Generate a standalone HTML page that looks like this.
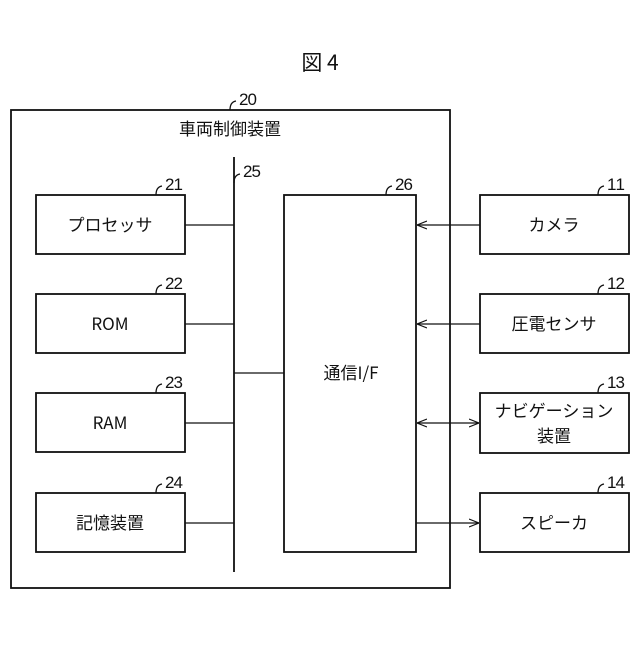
<!DOCTYPE html>
<html><head><meta charset="utf-8"><style>
html,body{margin:0;padding:0;background:#fff}
svg text{font-family:"Noto Sans CJK JP","Liberation Sans",sans-serif;fill:#111}
svg text.n{font-family:"Liberation Sans",sans-serif}
</style></head><body>
<svg width="640" height="640" viewBox="0 0 640 640" xmlns="http://www.w3.org/2000/svg">
<defs>
<marker id="a" viewBox="0 0 10 10" refX="10" refY="5" markerWidth="10" markerHeight="10" orient="auto-start-reverse" markerUnits="userSpaceOnUse"><path d="M0,1 L10,5 L0,9" fill="none" stroke="#111" stroke-width="1.2"/></marker>
</defs>
<g stroke="#111" stroke-width="1.8" fill="none">
<rect x="11" y="110" width="439" height="478"/>
<rect x="36" y="195" width="149" height="59"/>
<rect x="36" y="294" width="149" height="59"/>
<rect x="36" y="393" width="149" height="59"/>
<rect x="36" y="493" width="149" height="59"/>
<rect x="284" y="195" width="132" height="357"/>
<rect x="480" y="195" width="149" height="59"/>
<rect x="480" y="294" width="149" height="59"/>
<rect x="480" y="393" width="149" height="60"/>
<rect x="480" y="493" width="149" height="59"/>
<line x1="234" y1="157" x2="234" y2="572"/>
</g>
<g stroke="#111" stroke-width="1.3" fill="none">
<line x1="185" y1="225" x2="234" y2="225"/>
<line x1="185" y1="324" x2="234" y2="324"/>
<line x1="185" y1="423" x2="234" y2="423"/>
<line x1="185" y1="523" x2="234" y2="523"/>
<line x1="234" y1="373" x2="284" y2="373"/>
<line x1="480" y1="225" x2="417" y2="225" marker-end="url(#a)"/>
<line x1="480" y1="324" x2="417" y2="324" marker-end="url(#a)"/>
<line x1="417" y1="423" x2="479" y2="423" marker-start="url(#a)" marker-end="url(#a)"/>
<line x1="416" y1="523" x2="479" y2="523" marker-end="url(#a)"/>
<path d="M230,110 q0,-8 6,-9"/>
<path d="M234,183 q0,-8 6,-9"/>
<path d="M156,195 q0,-8 6,-9"/>
<path d="M156,294 q0,-8 6,-9"/>
<path d="M156,393 q0,-8 6,-9"/>
<path d="M156,493 q0,-8 6,-9"/>
<path d="M386,195 q0,-8 6,-9"/>
<path d="M598,195 q0,-8 6,-9"/>
<path d="M598,294 q0,-8 6,-9"/>
<path d="M598,393 q0,-8 6,-9"/>
<path d="M598,493 q0,-8 6,-9"/>
</g>
<text x="320" y="70" font-size="21" text-anchor="middle">図 4</text>
<g font-size="17" class="n">
<text class="n" x="239" y="105" textLength="18">20</text>
<text class="n" x="243" y="177" textLength="18">25</text>
<text class="n" x="165" y="190" textLength="18">21</text>
<text class="n" x="165" y="289" textLength="18">22</text>
<text class="n" x="165" y="388" textLength="18">23</text>
<text class="n" x="165" y="488" textLength="18">24</text>
<text class="n" x="395" y="190" textLength="18">26</text>
<text class="n" x="607" y="190" textLength="18">11</text>
<text class="n" x="607" y="289" textLength="18">12</text>
<text class="n" x="607" y="388" textLength="18">13</text>
<text class="n" x="607" y="488" textLength="18">14</text>
</g>
<g font-size="17" text-anchor="middle">
<text x="230" y="135">車両制御装置</text>
<text x="110" y="231">プロセッサ</text>
<text x="110" y="330">ROM</text>
<text x="110" y="429">RAM</text>
<text x="110" y="529">記憶装置</text>
<text x="351" y="379">通信I/F</text>
<text x="554" y="231">カメラ</text>
<text x="554" y="330">圧電センサ</text>
<text x="554" y="417">ナビゲーション</text>
<text x="554" y="442">装置</text>
<text x="554" y="529">スピーカ</text>
</g>
</svg>
</body></html>
